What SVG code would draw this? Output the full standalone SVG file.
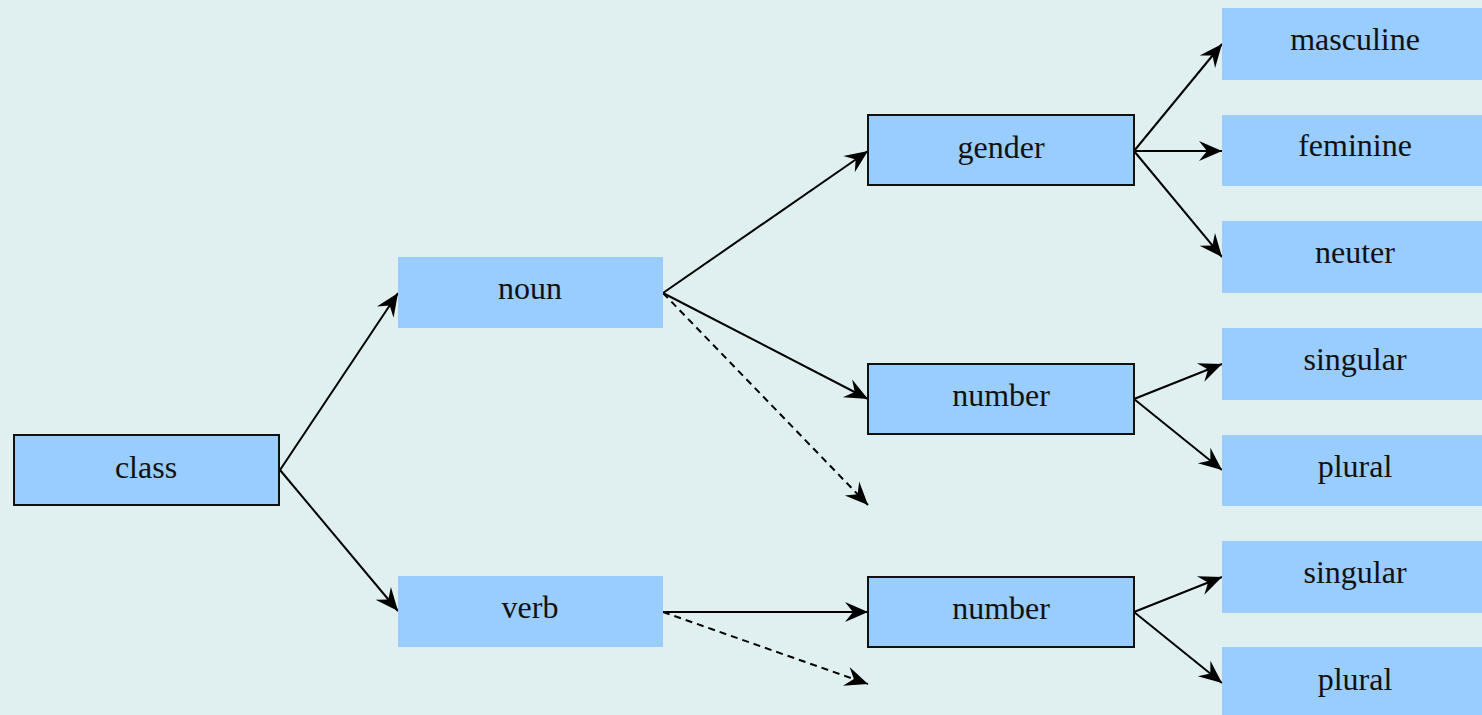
<svg xmlns="http://www.w3.org/2000/svg" width="1482" height="715" viewBox="0 0 1482 715">
  <style>
    .box { fill: #99ccff; }
    .framed { fill: #99ccff; stroke: #111111; stroke-width: 2; }
    .label { font-family: "Liberation Serif", "Times New Roman", serif; font-size: 32px; fill: #111111; text-anchor: middle; }
    .edge { fill: none; stroke: #000000; stroke-width: 2; marker-end: url(#head); }
    .dashed { stroke-dasharray: 7 5; }
  </style>
  <defs>
    <marker id="head" markerUnits="userSpaceOnUse" markerWidth="26" markerHeight="26" viewBox="-24 -12 26 24" refX="0" refY="0" orient="auto">
      <path d="M0,0 L-23,-10 L-15,0 L-23,10 Z" fill="#000000"/>
    </marker>
  </defs>
  <rect width="1482" height="715" fill="#e0f0f0"/>

  <g id="connectors">
    <line class="edge" x1="280" y1="470" x2="398" y2="293"/>
    <line class="edge" x1="280" y1="470" x2="398" y2="611"/>
    <line class="edge" x1="663" y1="293" x2="868" y2="151"/>
    <line class="edge" x1="663" y1="293" x2="868" y2="399"/>
    <line class="edge dashed" x1="663" y1="293" x2="868" y2="505"/>
    <line class="edge" x1="663" y1="612" x2="868" y2="612"/>
    <line class="edge dashed" x1="663" y1="612" x2="868" y2="684"/>
    <line class="edge" x1="1134" y1="151" x2="1222" y2="44"/>
    <line class="edge" x1="1134" y1="151" x2="1222" y2="151"/>
    <line class="edge" x1="1134" y1="151" x2="1222" y2="257"/>
    <line class="edge" x1="1134" y1="399" x2="1222" y2="364"/>
    <line class="edge" x1="1134" y1="399" x2="1222" y2="470"/>
    <line class="edge" x1="1134" y1="612" x2="1222" y2="577"/>
    <line class="edge" x1="1134" y1="612" x2="1222" y2="683"/>
  </g>

  <g id="class">
    <rect class="framed" x="14" y="435" width="265" height="70"/>
    <text class="label" x="146" y="478">class</text>
  </g>
  <g id="noun">
    <rect class="box" x="398" y="257" width="265" height="71"/>
    <text class="label" x="530" y="299">noun</text>
  </g>
  <g id="verb">
    <rect class="box" x="398" y="576" width="265" height="71"/>
    <text class="label" x="530" y="618">verb</text>
  </g>
  <g id="gender">
    <rect class="framed" x="868" y="115" width="266" height="70"/>
    <text class="label" x="1001" y="158">gender</text>
  </g>
  <g id="noun-number">
    <rect class="framed" x="868" y="364" width="266" height="70"/>
    <text class="label" x="1001" y="406">number</text>
  </g>
  <g id="verb-number">
    <rect class="framed" x="868" y="577" width="266" height="70"/>
    <text class="label" x="1001" y="619">number</text>
  </g>
  <g id="masculine">
    <rect class="box" x="1222" y="8" width="270" height="72"/>
    <text class="label" x="1355" y="50">masculine</text>
  </g>
  <g id="feminine">
    <rect class="box" x="1222" y="115" width="270" height="71"/>
    <text class="label" x="1355" y="156">feminine</text>
  </g>
  <g id="neuter">
    <rect class="box" x="1222" y="221" width="270" height="72"/>
    <text class="label" x="1355" y="263">neuter</text>
  </g>
  <g id="noun-singular">
    <rect class="box" x="1222" y="328" width="270" height="72"/>
    <text class="label" x="1355" y="370">singular</text>
  </g>
  <g id="noun-plural">
    <rect class="box" x="1222" y="435" width="270" height="71"/>
    <text class="label" x="1355" y="477">plural</text>
  </g>
  <g id="verb-singular">
    <rect class="box" x="1222" y="541" width="270" height="72"/>
    <text class="label" x="1355" y="583">singular</text>
  </g>
  <g id="verb-plural">
    <rect class="box" x="1222" y="647" width="270" height="72"/>
    <text class="label" x="1355" y="690">plural</text>
  </g>
</svg>
